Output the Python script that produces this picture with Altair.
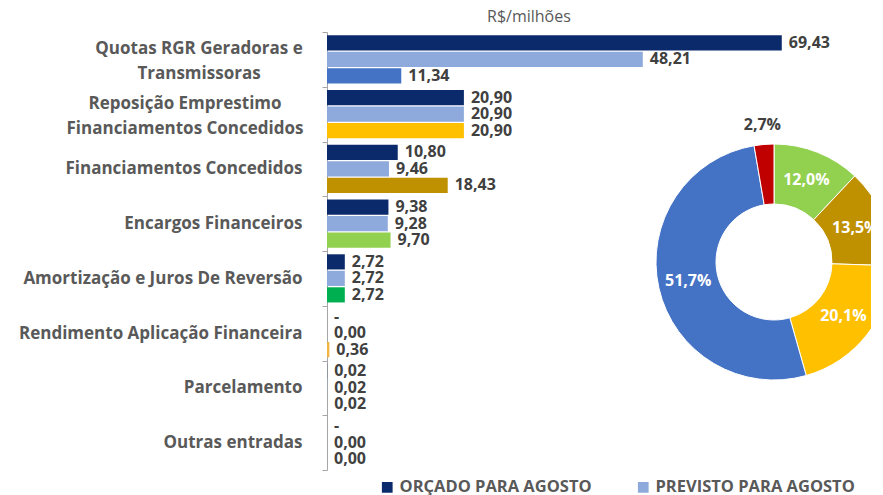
import altair as alt
import pandas as pd

categories = [
    "Quotas RGR Geradoras e\nTransmissoras",
    "Reposição Emprestimo\nFinanciamentos Concedidos",
    "Financiamentos Concedidos",
    "Encargos Financeiros",
    "Amortização e Juros De Reversão",
    "Rendimento Aplicação Financeira",
    "Parcelamento",
    "Outras entradas",
]
orcado = [69.43, 20.90, 10.80, 9.38, 2.72, 0.0, 0.02, 0.0]
orcado_lbl = ["69,43", "20,90", "10,80", "9,38", "2,72", "-", "0,02", "-"]
previsto = [48.21, 20.90, 9.46, 9.28, 2.72, 0.0, 0.02, 0.0]
previsto_lbl = ["48,21", "20,90", "9,46", "9,28", "2,72", "0,00", "0,02", "0,00"]
realizado = [11.34, 20.90, 18.43, 9.70, 2.72, 0.36, 0.02, 0.0]
realizado_lbl = ["11,34", "20,90", "18,43", "9,70", "2,72", "0,36", "0,02", "0,00"]
realizado_colors = ["#4472C4", "#FFC000", "#BF9000", "#92D050", "#00B050", "#F2B53F", "#A6A6A6", "#A6A6A6"]

series_names = ["ORÇADO PARA AGOSTO", "PREVISTO PARA AGOSTO"]
series_colors = ["#0B2A6B", "#8EA9DB"]

donut_labels = ["12,0%", "13,5%", "20,1%", "51,7%", "2,7%"]
donut_values = [12.0, 13.5, 20.1, 51.7, 2.7]
donut_colors = ["#92D050", "#BF9000", "#FFC000", "#4472C4", "#C00000"]

rows = []
for i, c in enumerate(categories):
    rows.append({"cat": c, "s": 0, "v": orcado[i], "lbl": orcado_lbl[i], "ck": series_names[0]})
    rows.append({"cat": c, "s": 1, "v": previsto[i], "lbl": previsto_lbl[i], "ck": series_names[1]})
    rows.append({"cat": c, "s": 2, "v": realizado[i], "lbl": realizado_lbl[i], "ck": "R" + str(i)})
bars_df = pd.DataFrame(rows)

color_domain = series_names + ["R" + str(i) for i in range(len(categories))]
color_range = series_colors + realizado_colors

FONT = "Open Sans"
LBL_COLOR = "#595959"

y_enc = alt.Y("cat:N", sort=categories, title=None,
              scale=alt.Scale(paddingInner=0, paddingOuter=0),
              axis=alt.Axis(labelExpr="indexof(datum.label, '\\n') >= 0 ? '' : datum.label",
                            labelFont=FONT, labelFontSize=17, labelFontWeight="bold",
                            labelColor=LBL_COLOR, labelPadding=20, tickBand="extent",
                            tickSize=5, tickColor="#A6A6A6", domainColor="#A6A6A6",
                            labelLimit=400))
yoff = alt.YOffset("s:O", scale=alt.Scale(paddingInner=0.08, paddingOuter=0.2))
x_enc = alt.X("v:Q", scale=alt.Scale(domain=[0, 80]), axis=None)

bars = alt.Chart(bars_df).mark_bar().encode(
    y=y_enc, yOffset=yoff, x=x_enc,
    color=alt.Color("ck:N", scale=alt.Scale(domain=color_domain, range=color_range),
                    legend=alt.Legend(values=series_names, title=None, orient="none",
                                      legendX=52, legendY=447, direction="horizontal",
                                      symbolType="square", symbolSize=115,
                                      symbolStrokeWidth=0, labelFont=FONT,
                                      labelFontSize=16.5, labelFontWeight="bold",
                                      labelColor=LBL_COLOR, columnPadding=43,
                                      labelLimit=300)),
)
labels = alt.Chart(bars_df).mark_text(align="left", baseline="middle", dx=7,
                                      font=FONT, fontSize=16, fontWeight="bold",
                                      color="#404040").encode(
    y=alt.Y("cat:N", sort=categories), yOffset=yoff, x=x_enc, text="lbl:N")

# two-line category labels, centred like the original
def multi_label(cat, center_from_axis):
    df = pd.DataFrame({"cat": [cat]})
    return alt.Chart(df).mark_text(align="center", baseline="middle", lineBreak="\n",
                                   lineHeight=25, dy=-10, font=FONT, fontSize=17,
                                   fontWeight="bold", color=LBL_COLOR).encode(
        y=alt.Y("cat:N", sort=categories), x=alt.value(-center_from_axis), text="cat:N")

ml1 = multi_label(categories[0], 128)
ml2 = multi_label(categories[1], 142)

donut_df = pd.DataFrame({"lbl": donut_labels, "p": donut_values,
                         "o": list(range(len(donut_values))), "col": donut_colors})
CX, CY = 447, 230
arc = alt.Chart(donut_df).mark_arc(innerRadius=58, outerRadius=118, stroke="white",
                                   strokeWidth=1).encode(
    theta=alt.Theta("p:Q", stack=True), order=alt.Order("o:Q"),
    color=alt.Color("col:N", scale=None),
    x=alt.value(CX), y=alt.value(CY))
inner_txt = alt.Chart(donut_df).transform_calculate(
    t="datum.o < 4 ? datum.lbl : ''").mark_text(
    radius=88, font=FONT, fontSize=16, fontWeight="bold", color="white").encode(
    theta=alt.Theta("p:Q", stack=True), order=alt.Order("o:Q"), text="t:N",
    x=alt.value(CX), y=alt.value(CY))
outer_txt = alt.Chart(donut_df).transform_calculate(
    t="datum.o == 4 ? datum.lbl : ''").mark_text(
    radius=137, font=FONT, fontSize=16, fontWeight="bold", color="#404040").encode(
    theta=alt.Theta("p:Q", stack=True), order=alt.Order("o:Q"), text="t:N",
    x=alt.value(CX), y=alt.value(CY))

chart = alt.layer(bars, labels, ml1, ml2, arc, inner_txt, outer_txt).resolve_scale(
    color="independent", theta="independent").properties(
    width=524, height=438,
    title=alt.TitleParams("R$/milhões", font=FONT, fontSize=16, fontWeight="normal",
                          color="#595959", anchor="start", frame="group", dx=160,
                          offset=-2),
    padding={"left": 319, "top": 24, "right": 20, "bottom": 25},
    autosize=alt.AutoSizeParams(type="none"),
).configure_view(stroke=None)

chart.save("out.html", embed_options={"renderer": "svg", "actions": False})
